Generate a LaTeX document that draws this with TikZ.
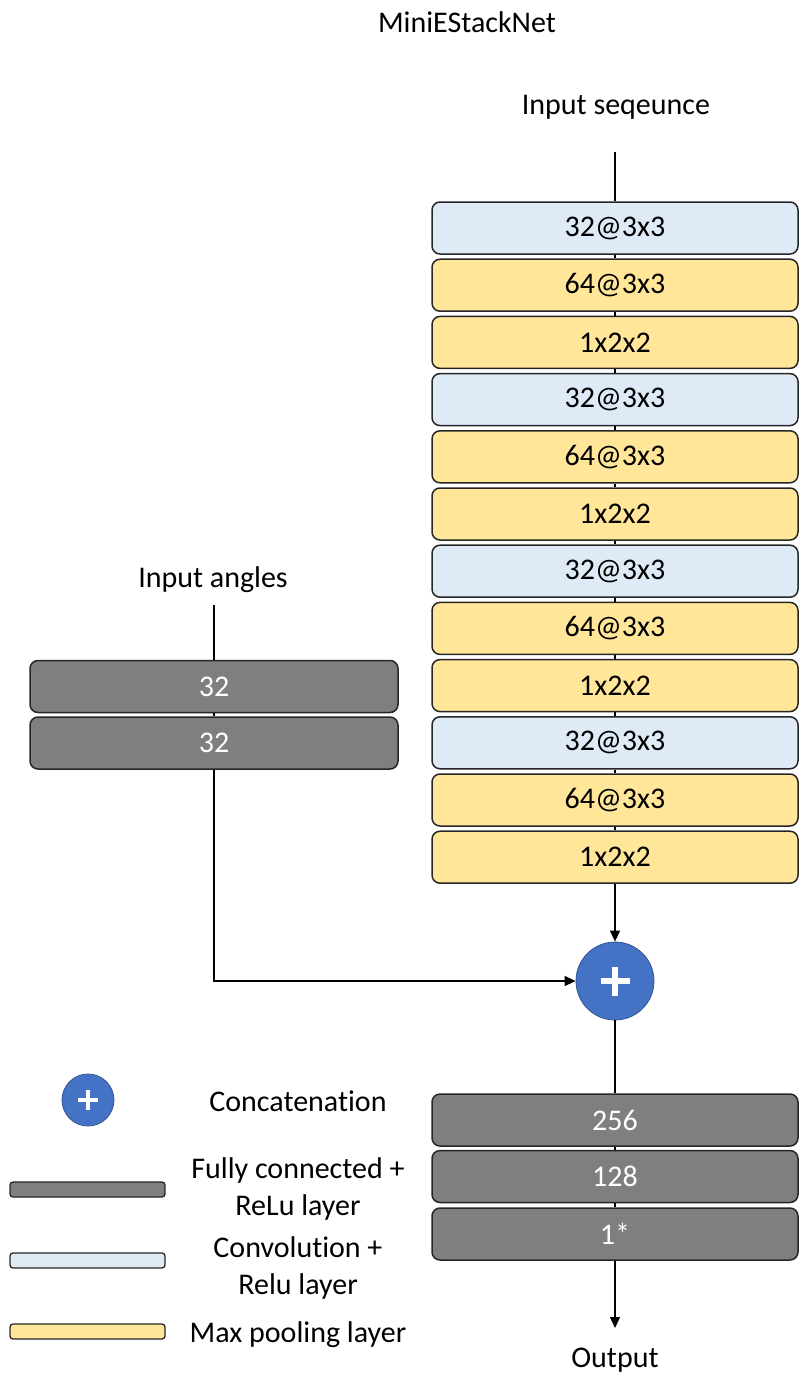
\documentclass[tikz,border=0pt]{standalone}
\usepackage{fontspec}
\setmainfont{Carlito}[Ligatures={NoCommon}]
\usetikzlibrary{arrows.meta}
\definecolor{convblue}{HTML}{DEEBF7}
\definecolor{poolyellow}{HTML}{FFE699}
\definecolor{fcgray}{HTML}{7F7F7F}
\definecolor{catblue}{HTML}{4472C4}
\definecolor{edgecol}{HTML}{262626}
\begin{document}
\begin{tikzpicture}[x=1pt,y=-1pt,
  txt/.style={font=\fontsize{30}{37}\selectfont, align=center, inner sep=0pt},
  layer/.style={draw=edgecol, line width=1.5pt, rounded corners=8pt, minimum height=52pt,
                minimum width=366pt, inner sep=0pt, font=\fontsize{30}{36}\selectfont},
  conv/.style={layer, fill=convblue},
  pool/.style={layer, fill=poolyellow},
  fc/.style={layer, fill=fcgray, text=white},
  legbar/.style={draw=edgecol, line width=1.3pt, rounded corners=3pt, minimum width=155pt,
                 minimum height=15pt, inner sep=0pt},
  catnode/.style={circle, fill=catblue, draw=catblue!75!black, line width=0.8pt, inner sep=0pt},
  conn/.style={line width=1.3pt, draw=black},
  arr/.style={conn, -{Triangle[length=11pt,width=10pt]}}
]
\useasboundingbox (0,0) rectangle (799,1375);

% title and input labels
\node[txt] (title) at (467,22) {MiniEStackNet};
\node[txt] (inseqlbl) at (616,107) {Input seqeunce};
\coordinate (inseq) at (615,152);
\node[txt] (inanglbl) at (213,580) {Input angles};
\coordinate (inang) at (214,605);

% right stack
\node[conv] (b1)  at (615,228.0) {32@3x3};
\node[pool] (b2)  at (615,285.2) {64@3x3};
\node[pool] (b3)  at (615,342.4) {1x2x2};
\node[conv] (b4)  at (615,399.6) {32@3x3};
\node[pool] (b5)  at (615,456.8) {64@3x3};
\node[pool] (b6)  at (615,514.0) {1x2x2};
\node[conv] (b7)  at (615,571.2) {32@3x3};
\node[pool] (b8)  at (615,628.4) {64@3x3};
\node[pool] (b9)  at (615,685.6) {1x2x2};
\node[conv] (b10) at (615,742.8) {32@3x3};
\node[pool] (b11) at (615,800.0) {64@3x3};
\node[pool] (b12) at (615,857.2) {1x2x2};

% left stack
\node[fc, minimum width=368pt] (a1) at (214,686.5) {32};
\node[fc, minimum width=368pt] (a2) at (214,743.0) {32};

% concatenation
\node[catnode, minimum size=78pt] (cat) at (615,981) {};
\draw[white, line width=6.5pt] ([xshift=-14.5pt]cat.center) -- ([xshift=14.5pt]cat.center);
\draw[white, line width=6.5pt] ([yshift=-14.5pt]cat.center) -- ([yshift=14.5pt]cat.center);

% bottom stack
\node[fc] (f1) at (615,1120) {256};
\node[fc] (f2) at (615,1176.5) {128};
\node[fc] (f3) at (615,1234) {1*};
\coordinate (out) at (615,1328);
\node[txt] (outlbl) at (615,1360) {Output};

% connectors
\draw[conn] (inseq) -- (b1.north);
\foreach \i/\j in {1/2,2/3,3/4,4/5,5/6,6/7,7/8,8/9,9/10,10/11,11/12}
  \draw[conn] (b\i.south) -- (b\j.north);
\draw[arr] (b12.south) -- (cat.north);
\draw[conn] (inang) -- (a1.north);
\draw[conn] (a1.south) -- (a2.north);
\draw[arr] (a2.south) |- (cat.west);
\draw[conn] (cat.south) -- (f1.north);
\draw[conn] (f1.south) -- (f2.north);
\draw[conn] (f2.south) -- (f3.north);
\draw[arr] (f3.south) -- (out);

% legend
\node[catnode, minimum size=52pt] (lcat) at (88,1100) {};
\draw[white, line width=4.5pt] ([xshift=-10pt]lcat.center) -- ([xshift=10pt]lcat.center);
\draw[white, line width=4.5pt] ([yshift=-10pt]lcat.center) -- ([yshift=10pt]lcat.center);
\node[txt] (lcattxt) at (298,1101) {Concatenation};
\node[legbar, fill=fcgray] (lfc) at (87.5,1189.5) {};
\node[txt] (lfctxt) at (298,1189) {Fully connected +\\ReLu layer};
\node[legbar, fill=convblue] (lconv) at (87.5,1260.5) {};
\node[txt] (lconvtxt) at (298,1268) {Convolution +\\Relu layer};
\node[legbar, fill=poolyellow] (lpool) at (87.5,1331.5) {};
\node[txt] (lpooltxt) at (298,1335) {Max pooling layer};
\end{tikzpicture}
\end{document}
